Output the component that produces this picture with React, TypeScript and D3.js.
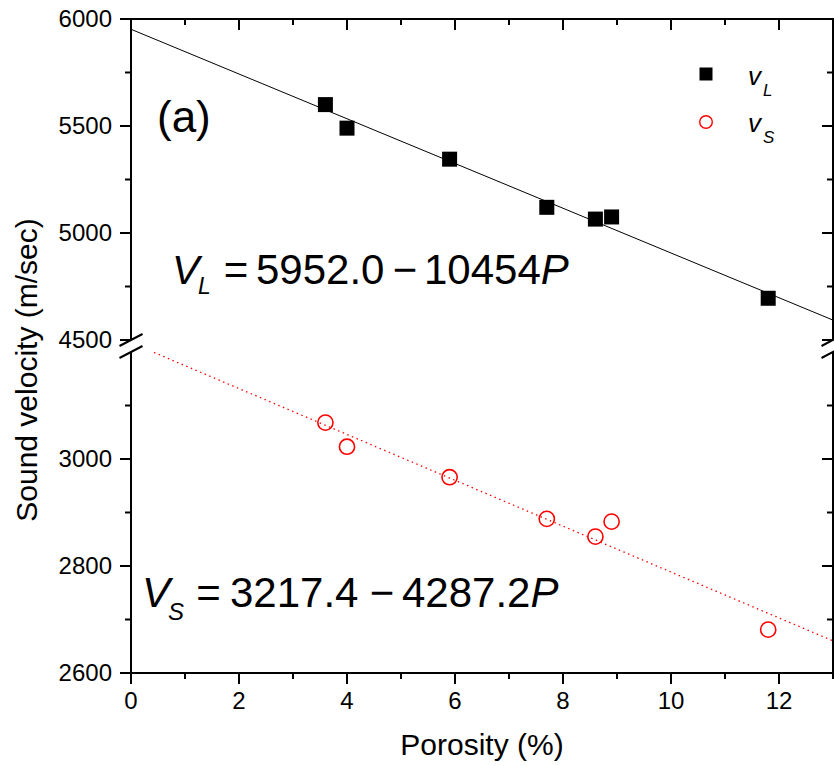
import React from "react";
import * as d3 from "d3";

// ---- data ----
const porosity = [3.6, 4.0, 5.9, 7.7, 8.6, 8.9, 11.8];
const vL = [5600, 5490, 5345, 5120, 5065, 5075, 4695];
const vS = [3068, 3023, 2966, 2888, 2855, 2883, 2681];

// fit coefficients (P as fraction)
const fitL = { a: 5952.0, b: -10454 };
const fitS = { a: 3217.4, b: -4287.2 };
const fitRange = [0, 13];

const xTicks = [0, 2, 4, 6, 8, 10, 12];
const xMinor = [1, 3, 5, 7, 9, 11, 13];
const yUpperTicks = [4500, 5000, 5500, 6000];
const yUpperMinor = [4750, 5250, 5750];
const yLowerTicks = [2600, 2800, 3000];
const yLowerMinor = [2700, 2900, 3100];

const FONT = "'Liberation Sans', Arial, Helvetica, sans-serif";

export default function App() {
  const W = 834, H = 766;
  const L = 131, R = 833, T = 19, B = 673;
  const upBottom = 340, lowTop = 352;
  const x = d3.scaleLinear().domain([0, 13]).range([L, R]);
  const yU = d3.scaleLinear().domain([4500, 6000]).range([upBottom, T]);
  const yLo = d3.scaleLinear().domain([2600, 3200]).range([B, lowTop]);

  const lineU = d3.line<[number, number]>().x(d => x(d[0])).y(d => yU(d[1]));
  const lineLo = d3.line<[number, number]>().x(d => x(d[0])).y(d => yLo(d[1]));
  const fitLPts: [number, number][] = fitRange.map(p => [p, fitL.a + fitL.b * p / 100]);
  const fitSPts: [number, number][] = fitRange.map(p => [p, fitS.a + fitS.b * p / 100]);

  const sw = 2;
  const major = 11, minor = 6;
  const sq = 15;

  const breakMark = (cx: number, cy: number, key: string) => (
    <line key={key} x1={cx - 11.5} y1={cy + 6} x2={cx + 11.5} y2={cy - 6} stroke="#000" strokeWidth={2} />
  );

  return (
    <svg width={W} height={H} style={{ position: "absolute", left: 0, top: 0, background: "#fff" }} fontFamily={FONT}>
      <defs>
        <clipPath id="lowClip">
          <rect x={L} y={lowTop} width={R - L} height={B - lowTop} />
        </clipPath>
        <clipPath id="upClip">
          <rect x={L} y={T} width={R - L} height={upBottom - T} />
        </clipPath>
      </defs>

      {/* fit lines */}
      <path d={lineU(fitLPts) || ""} stroke="#000" strokeWidth={1} fill="none" clipPath="url(#upClip)" />
      <path d={lineLo(fitSPts) || ""} stroke="#ff0000" strokeWidth={1.3} strokeDasharray="1.5 3.5" fill="none" clipPath="url(#lowClip)" />

      {/* axes frame */}
      <line x1={L} y1={T} x2={R} y2={T} stroke="#000" strokeWidth={sw} />
      <line x1={L - 1} y1={B} x2={R + 1} y2={B} stroke="#000" strokeWidth={sw} />
      <line x1={L} y1={T - 1} x2={L} y2={upBottom} stroke="#000" strokeWidth={sw} />
      <line x1={L} y1={lowTop} x2={L} y2={B + 1} stroke="#000" strokeWidth={sw} />
      <line x1={R} y1={T - 1} x2={R} y2={upBottom} stroke="#000" strokeWidth={sw} />
      <line x1={R} y1={lowTop} x2={R} y2={B + 1} stroke="#000" strokeWidth={sw} />
      {breakMark(L, upBottom, "bl1")}
      {breakMark(L, lowTop, "bl2")}
      {breakMark(R, upBottom, "br1")}
      {breakMark(R, lowTop, "br2")}

      {/* x ticks */}
      {xTicks.map(t => (
        <g key={"xt" + t}>
          <line x1={x(t)} y1={B} x2={x(t)} y2={B + major} stroke="#000" strokeWidth={sw} />
          <line x1={x(t)} y1={T} x2={x(t)} y2={T + major} stroke="#000" strokeWidth={sw} />
          <text x={x(t)} y={709} textAnchor="middle" fontSize={24}>{t}</text>
        </g>
      ))}
      {xMinor.map(t => (
        <g key={"xm" + t}>
          <line x1={x(t)} y1={B} x2={x(t)} y2={B + minor} stroke="#000" strokeWidth={sw} />
          <line x1={x(t)} y1={T} x2={x(t)} y2={T + minor} stroke="#000" strokeWidth={sw} />
        </g>
      ))}

      {/* y ticks upper */}
      {yUpperTicks.map(t => (
        <g key={"yu" + t}>
          <line x1={L - major} y1={yU(t)} x2={L} y2={yU(t)} stroke="#000" strokeWidth={sw} />
          <line x1={R - major} y1={yU(t)} x2={R} y2={yU(t)} stroke="#000" strokeWidth={sw} />
          <text x={112} y={yU(t)} dy="0.35em" textAnchor="end" fontSize={24}>{t}</text>
        </g>
      ))}
      {yUpperMinor.map(t => (
        <g key={"yum" + t}>
          <line x1={L - minor} y1={yU(t)} x2={L} y2={yU(t)} stroke="#000" strokeWidth={sw} />
          <line x1={R - minor} y1={yU(t)} x2={R} y2={yU(t)} stroke="#000" strokeWidth={sw} />
        </g>
      ))}
      {/* y ticks lower */}
      {yLowerTicks.map(t => (
        <g key={"yl" + t}>
          <line x1={L - major} y1={yLo(t)} x2={L} y2={yLo(t)} stroke="#000" strokeWidth={sw} />
          <line x1={R - major} y1={yLo(t)} x2={R} y2={yLo(t)} stroke="#000" strokeWidth={sw} />
          <text x={112} y={yLo(t)} dy="0.35em" textAnchor="end" fontSize={24}>{t}</text>
        </g>
      ))}
      {yLowerMinor.map(t => (
        <g key={"ylm" + t}>
          <line x1={L - minor} y1={yLo(t)} x2={L} y2={yLo(t)} stroke="#000" strokeWidth={sw} />
          <line x1={R - minor} y1={yLo(t)} x2={R} y2={yLo(t)} stroke="#000" strokeWidth={sw} />
        </g>
      ))}

      {/* axis titles */}
      <text x={482} y={755} textAnchor="middle" fontSize={30}>Porosity (%)</text>
      <text transform={`translate(37,370) rotate(-90)`} textAnchor="middle" fontSize={30}>Sound velocity (m/sec)</text>

      {/* data */}
      {porosity.map((p, i) => (
        <rect key={"s" + i} x={x(p) - sq / 2} y={yU(vL[i]) - sq / 2} width={sq} height={sq} fill="#000" />
      ))}
      {porosity.map((p, i) => (
        <circle key={"c" + i} cx={x(p)} cy={yLo(vS[i])} r={7.6} fill="none" stroke="#ff0000" strokeWidth={1.6} />
      ))}

      {/* panel label */}
      <text x={157} y={132} fontSize={44}>(a)</text>

      {/* legend */}
      <rect x={706 - 6.5} y={74 - 6.5} width={13} height={13} fill="#000" />
      <text x={748} y={85} fontSize={26} fontStyle="italic">v</text>
      <text x={763} y={96} fontSize={17} fontStyle="italic">L</text>
      <circle cx={706} cy={122} r={6.3} fill="none" stroke="#ff0000" strokeWidth={1.4} />
      <text x={748} y={132} fontSize={26} fontStyle="italic">v</text>
      <text x={763} y={143} fontSize={17} fontStyle="italic">S</text>

      {/* equations */}
      <text x={172} y={284} fontSize={41} fontStyle="italic">V</text>
      <text x={198} y={294} fontSize={23} fontStyle="italic">L</text>
      <text x={236} y={284} fontSize={42} textAnchor="middle">=</text>
      <text x={256} y={284} fontSize={42}>5952.0</text>
      <text x={405} y={284} fontSize={42} textAnchor="middle">−</text>
      <text x={424} y={284} fontSize={42}>10454<tspan fontStyle="italic">P</tspan></text>

      <text x={142} y={607} fontSize={42} fontStyle="italic">V</text>
      <text x={168} y={620} fontSize={24} fontStyle="italic">S</text>
      <text x={208.5} y={607} fontSize={42} textAnchor="middle">=</text>
      <text x={230} y={607} fontSize={42}>3217.4</text>
      <text x={382} y={607} fontSize={42} textAnchor="middle">−</text>
      <text x={402} y={607} fontSize={42}>4287.2<tspan fontStyle="italic">P</tspan></text>
    </svg>
  );
}
